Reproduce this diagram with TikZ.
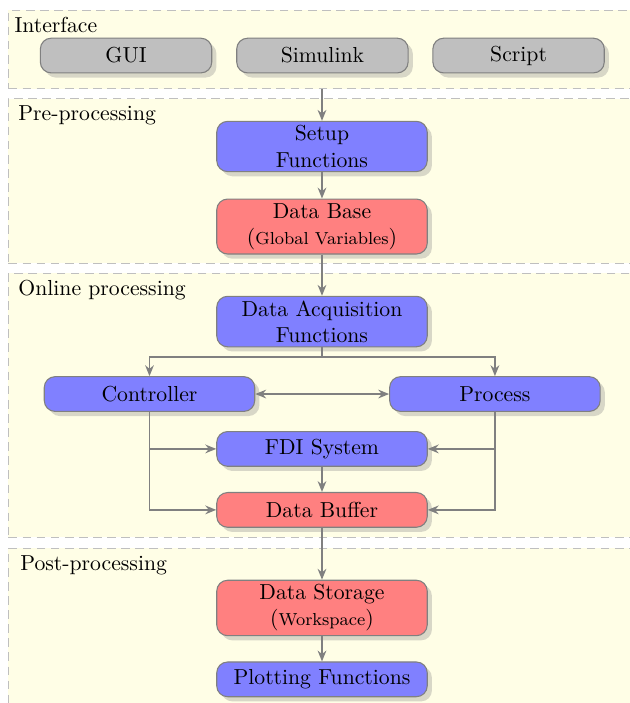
\documentclass[tikz,border=0pt]{standalone}
\usepackage{tikz}
\usetikzlibrary{shapes, arrows.meta, positioning, calc, shadows}

\tikzset{
  band/.style={draw=gray!50, dashed, dash pattern=on 4pt off 2.5pt, fill=yellow!10, anchor=north west, minimum width=300pt, inner sep=0pt},
  bandlabel/.style={anchor=north west, inner sep=0pt, font=\normalsize},
  block/.style={draw=gray, line width=0.5pt, rounded corners=5pt, minimum width=97pt, minimum height=16pt, align=center, inner xsep=3pt, inner ysep=2pt, drop shadow={opacity=0.3}},
  funcblock/.style={block, fill=blue!50},
  datablock/.style={block, fill=red!50},
  ioblock/.style={block, fill=black!25, minimum width=79pt},
  flow/.style={draw=gray, line width=0.8pt, -{Stealth[length=5pt, width=4pt]}},
}

\begin{document}
\begin{tikzpicture}
  \useasboundingbox (0pt,0pt) rectangle (290pt,-324pt);

  % bands
  \node[band, minimum height=36pt] (ifband) at (3.7pt,-4.6pt) {};
  \node[band, minimum height=76pt] (preband) at (3.7pt,-45.2pt) {};
  \node[band, minimum height=121.7pt] (onband) at (3.7pt,-125.8pt) {};
  \node[band, minimum height=80pt] (postband) at (3.7pt,-252.5pt) {};

  \node[bandlabel] (iflabel) at (6.5pt,-7.6pt) {Interface};
  \node[bandlabel] (prelabel) at (8.3pt,-48.4pt) {Pre-processing};
  \node[bandlabel] (onlabel) at (8.3pt,-129pt) {Online processing};
  \node[bandlabel] (postlabel) at (9.2pt,-255.7pt) {Post-processing};

  % interface
  \node[ioblock] (gui) at (58.1pt,-25.6pt) {GUI};
  \node[ioblock] (simulink) at (148.6pt,-25.6pt) {Simulink};
  \node[ioblock] (script) at (239pt,-25.6pt) {Script};

  % pre-processing
  \node[funcblock] (setup) at (148.4pt,-67.5pt) {Setup\\Functions};
  \node[datablock] (database) at (148.4pt,-104.4pt) {Data Base\\({\footnotesize Global Variables})};

  % online processing
  \node[funcblock] (acquisition) at (148.4pt,-148.2pt) {Data Acquisition\\Functions};
  \node[funcblock] (controller) at (68.9pt,-181.6pt) {Controller};
  \node[funcblock] (process) at (228.1pt,-181.6pt) {Process};
  \node[funcblock] (fdi) at (148.4pt,-206.9pt) {FDI System};
  \node[datablock] (buffer) at (148.4pt,-235pt) {Data Buffer};

  % post-processing
  \node[datablock] (storage) at (148.4pt,-280.2pt) {Data Storage\\({\footnotesize Workspace})};
  \node[funcblock] (plotting) at (148.4pt,-313.1pt) {Plotting Functions};

  % connections
  \draw[flow] (setup |- ifband.south) -- (setup);
  \draw[flow] (setup) -- (database);
  \draw[flow] (database) -- (acquisition);
  \draw[flow] (acquisition.south) -- ++(0,-4.6pt) -| (controller.north);
  \draw[flow] (acquisition.south) -- ++(0,-4.6pt) -| (process.north);
  \draw[flow, {Stealth[length=5pt, width=4pt]}-{Stealth[length=5pt, width=4pt]}] (controller) -- (process);
  \draw[flow] (controller.south) |- (fdi.west);
  \draw[flow] (controller.south) |- (buffer.west);
  \draw[flow] (process.south) |- (fdi.east);
  \draw[flow] (process.south) |- (buffer.east);
  \draw[flow] (fdi) -- (buffer);
  \draw[flow] (buffer) -- (storage);
  \draw[flow] (storage) -- (plotting);
\end{tikzpicture}
\end{document}
